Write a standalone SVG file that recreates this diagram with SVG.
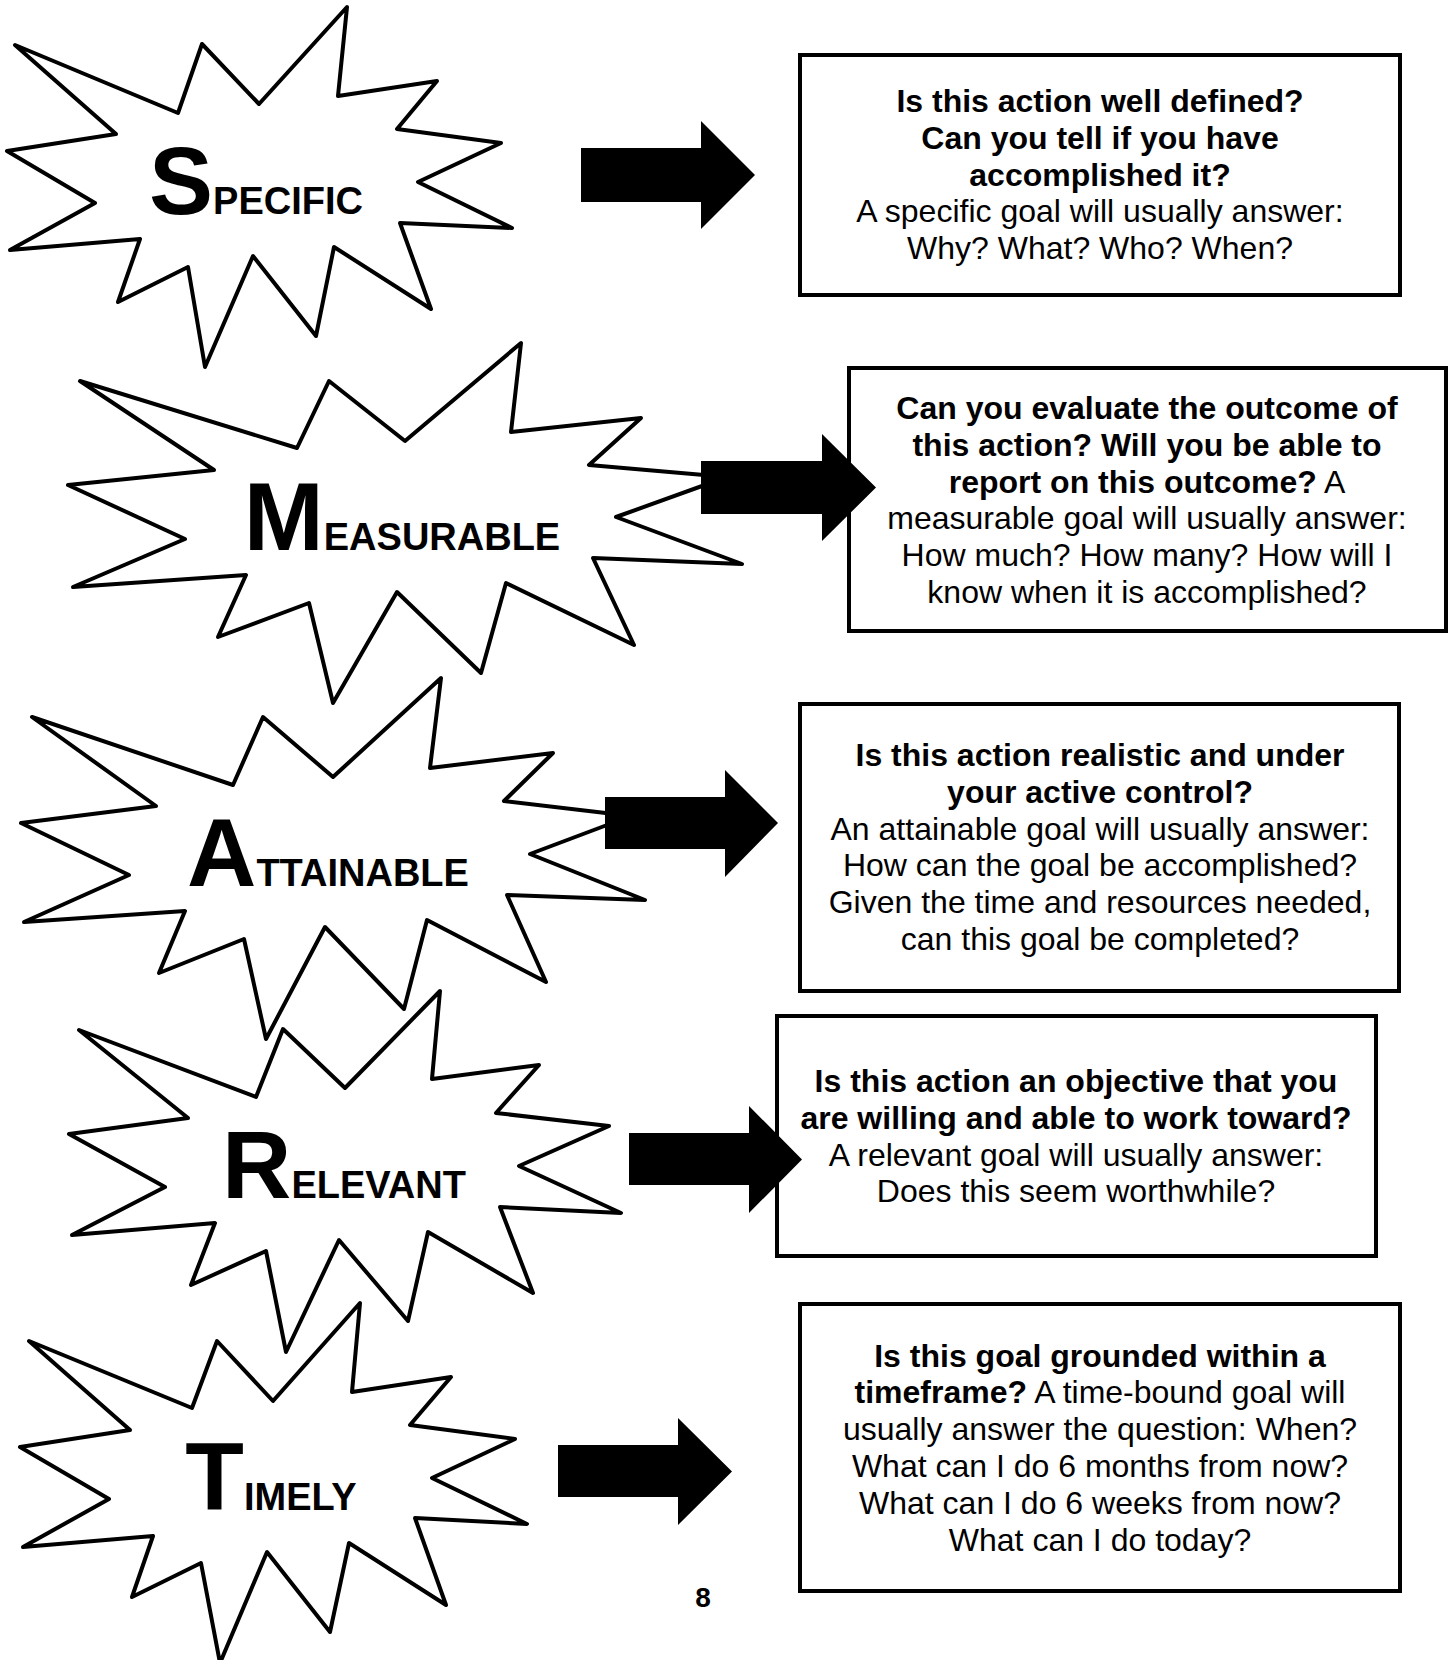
<svg xmlns="http://www.w3.org/2000/svg" width="1454" height="1660" viewBox="0 0 1454 1660">
<style>
.star{fill:#fff;stroke:#000;stroke-width:4;stroke-linejoin:round}
.box{fill:#fff;stroke:#000;stroke-width:4}
.arrow{fill:#000;stroke:none}
.lbl{font-family:"Liberation Sans",Arial,sans-serif;font-weight:bold;fill:#000;text-anchor:middle}
.big{font-size:96px}
.sm{font-size:38px}
.t{font-family:"Liberation Sans",Arial,sans-serif;font-size:32px;fill:#000;text-anchor:middle}
.b{font-weight:bold}
.pg{font-family:"Liberation Sans",Arial,sans-serif;font-size:28px;font-weight:bold;text-anchor:middle}
</style>
<g id="star-specific">
<polygon class="star" points="15,45 178,113 202,44 259,104 347,7 338,96 437,81 397,129 501,143 418,182 512,228 400,223 431,309 334,247 316,336 253,256 205,367 188,267 118,302 140,239 10,250 95,203 7,151 116,134"/>
<text class="lbl" x="256" y="214"><tspan class="big">S</tspan><tspan class="sm">PECIFIC</tspan></text>
</g>
<g id="star-measurable">
<polygon class="star" points="80,381 297,448 329,381 405,441 521,343 511,432 641,418 589,465 727,477 616,517 742,564 593,558 634,645 506,583 481,673 397,592 333,703 309,603 218,637 246,575 73,587 185,539 68,485 214,470"/>
<text class="lbl" x="402" y="550"><tspan class="big">M</tspan><tspan class="sm">EASURABLE</tspan></text>
</g>
<g id="star-attainable">
<polygon class="star" points="32,717 233,785 263,717 333,777 441,678 430,768 553,753 504,801 631,816 530,854 645,900 507,895 546,982 427,920 404,1009 325,927 266,1039 244,939 159,973 185,911 24,922 129,875 21,823 156,806"/>
<text class="lbl" x="328" y="886"><tspan class="big">A</tspan><tspan class="sm">TTAINABLE</tspan></text>
</g>
<g id="star-relevant">
<polygon class="star" points="79,1030 256,1097 283,1029 345,1088 440,991 432,1079 539,1065 496,1113 609,1126 519,1166 621,1213 500,1207 533,1293 428,1232 408,1321 339,1240 286,1352 266,1251 191,1285 215,1223 72,1235 165,1187 69,1134 188,1118"/>
<text class="lbl" x="344" y="1198"><tspan class="big">R</tspan><tspan class="sm">ELEVANT</tspan></text>
</g>
<g id="star-timely">
<polygon class="star" points="29,1341 192,1408 217,1341 273,1401 360,1303 352,1392 451,1377 410,1425 515,1439 432,1478 527,1524 415,1518 446,1605 349,1543 330,1632 267,1552 220,1663 201,1563 132,1597 153,1536 23,1547 109,1499 20,1447 130,1430"/>
<text class="lbl" x="271" y="1510"><tspan class="big">T</tspan><tspan class="sm">IMELY</tspan></text>
</g>
<g id="box-specific">
<rect class="box" x="800" y="55" width="600" height="240"/>
<text class="t b" x="1100" y="112">Is this action well defined?</text>
<text class="t b" x="1100" y="148.8">Can you tell if you have</text>
<text class="t b" x="1100" y="185.6">accomplished it?</text>
<text class="t" x="1100" y="222.4">A specific goal will usually answer:</text>
<text class="t" x="1100" y="259.2">Why? What? Who? When?</text>
</g>
<g id="box-measurable">
<rect class="box" x="849" y="368" width="597" height="263"/>
<text class="t b" x="1147" y="419">Can you evaluate the outcome of</text>
<text class="t b" x="1147" y="455.8">this action? Will you be able to</text>
<text class="t" x="1147" y="492.6"><tspan class="b">report on this outcome?</tspan> A</text>
<text class="t" x="1147" y="529.4">measurable goal will usually answer:</text>
<text class="t" x="1147" y="566.2">How much? How many? How will I</text>
<text class="t" x="1147" y="603">know when it is accomplished?</text>
</g>
<g id="box-attainable">
<rect class="box" x="800" y="704" width="599" height="287"/>
<text class="t b" x="1100" y="766">Is this action realistic and under</text>
<text class="t b" x="1100" y="802.8">your active control?</text>
<text class="t" x="1100" y="839.6">An attainable goal will usually answer:</text>
<text class="t" x="1100" y="876.4">How can the goal be accomplished?</text>
<text class="t" x="1100" y="913.2">Given the time and resources needed,</text>
<text class="t" x="1100" y="950">can this goal be completed?</text>
</g>
<g id="box-relevant">
<rect class="box" x="777" y="1016" width="599" height="240"/>
<text class="t b" x="1076" y="1092">Is this action an objective that you</text>
<text class="t b" x="1076" y="1128.8">are willing and able to work toward?</text>
<text class="t" x="1076" y="1165.6">A relevant goal will usually answer:</text>
<text class="t" x="1076" y="1202.4">Does this seem worthwhile?</text>
</g>
<g id="box-timely">
<rect class="box" x="800" y="1304" width="600" height="287"/>
<text class="t b" x="1100" y="1366.5">Is this goal grounded within a</text>
<text class="t" x="1100" y="1403.3"><tspan class="b">timeframe?</tspan> A time-bound goal will</text>
<text class="t" x="1100" y="1440.1">usually answer the question: When?</text>
<text class="t" x="1100" y="1476.9">What can I do 6 months from now?</text>
<text class="t" x="1100" y="1513.7">What can I do 6 weeks from now?</text>
<text class="t" x="1100" y="1550.5">What can I do today?</text>
</g>
<g id="connectors">
<path class="arrow" d="M581,148 H701 V121 L755,175 L701,229 V202 H581 Z"/>
<path class="arrow" d="M701,461 H822 V434 L876,487.5 L822,541 V514 H701 Z"/>
<path class="arrow" d="M605,797 H725 V770 L778,823 L725,877 V849 H605 Z"/>
<path class="arrow" d="M629,1133 H749 V1106 L802,1159.5 L749,1213 V1185 H629 Z"/>
<path class="arrow" d="M558,1445 H678 V1418 L732,1471.5 L678,1525 V1497 H558 Z"/>
</g>
<text class="pg" x="703" y="1607">8</text>
</svg>
